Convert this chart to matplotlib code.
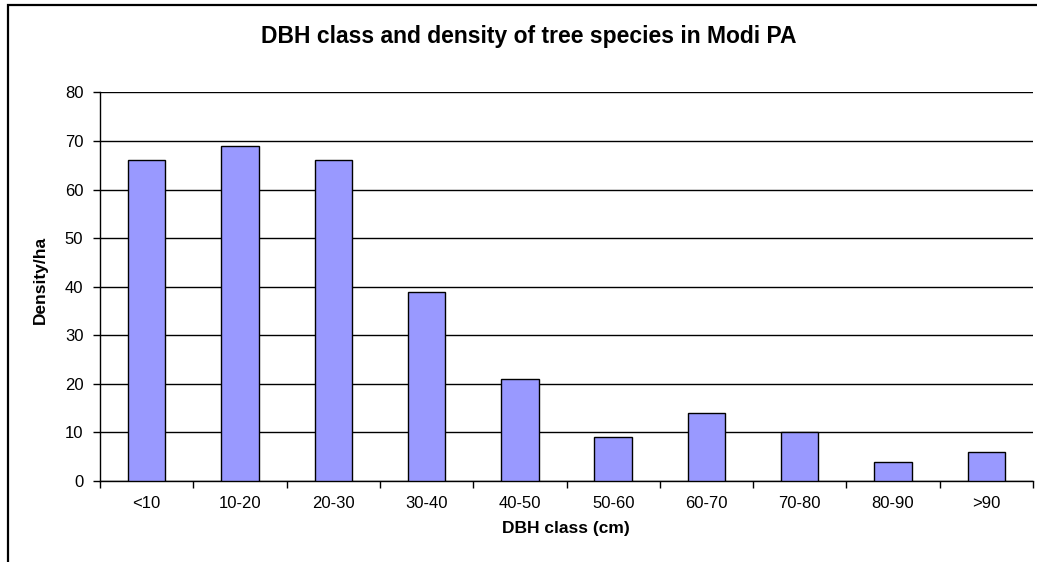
import matplotlib
matplotlib.use("Agg")
import matplotlib.pyplot as plt
from matplotlib.patches import Rectangle
import numpy as np

categories = ["<10", "10-20", "20-30", "30-40", "40-50", "50-60", "60-70", "70-80", "80-90", ">90"]
density = [66, 69, 66, 39, 21, 9, 14, 10, 4, 6]
y_ticks = [0, 10, 20, 30, 40, 50, 60, 70, 80]

plt.rcParams["font.family"] = ["Liberation Sans", "DejaVu Sans"]

W, H = 1037, 562
fig = plt.figure(figsize=(W / 100, H / 100), dpi=100)
fig.patch.set_facecolor("white")

# chart-area border (left and top edges visible)
fig.patches.append(Rectangle((8 / W, -0.1), 1.2, (H - 5) / H + 0.1,
                             transform=fig.transFigure, fill=False,
                             edgecolor="black", linewidth=1.6, zorder=0))

ax = fig.add_axes([100 / W, (H - 481) / H, (1033 - 100) / W, (481 - 92.5) / H])

x = np.arange(len(categories))
ax.bar(x, density, width=0.4, color="#9999FF", edgecolor="black", linewidth=1.0, zorder=3)

ax.set_xlim(-0.5, len(categories) - 0.5)
ax.set_ylim(0, 80)
ax.set_yticks(y_ticks)
ax.set_yticklabels([str(v) for v in y_ticks], fontsize=12)
ax.yaxis.grid(True, color="black", linewidth=1.0, zorder=0)
ax.set_axisbelow(True)

ax.set_xticks(x)
ax.set_xticklabels(categories, fontsize=12)
ax.set_xticks(np.arange(-0.5, len(categories)), minor=True)
ax.tick_params(axis="x", which="major", length=0, pad=11)
ax.tick_params(axis="x", which="minor", length=5, width=1, direction="out")
ax.tick_params(axis="y", length=5, width=1, direction="out", pad=7)

for side in ["top", "right"]:
    ax.spines[side].set_visible(False)
for side in ["left", "bottom"]:
    ax.spines[side].set_linewidth(1.0)
    ax.spines[side].set_color("black")

fig.text(566 / W, 1 - 529 / H, "DBH class (cm)", ha="center", va="center",
         fontsize=12.5, fontweight="bold")
fig.text(40 / W, 1 - 280 / H, "Density/ha", ha="center", va="center",
         rotation=90, fontsize=12.5, fontweight="bold")

fig.text(529 / W, 1 - 37 / H, "DBH class and density of tree species in Modi PA",
         ha="center", va="center", fontsize=16.5, fontweight="bold")

fig.savefig("out.png", dpi=100, facecolor="white")
